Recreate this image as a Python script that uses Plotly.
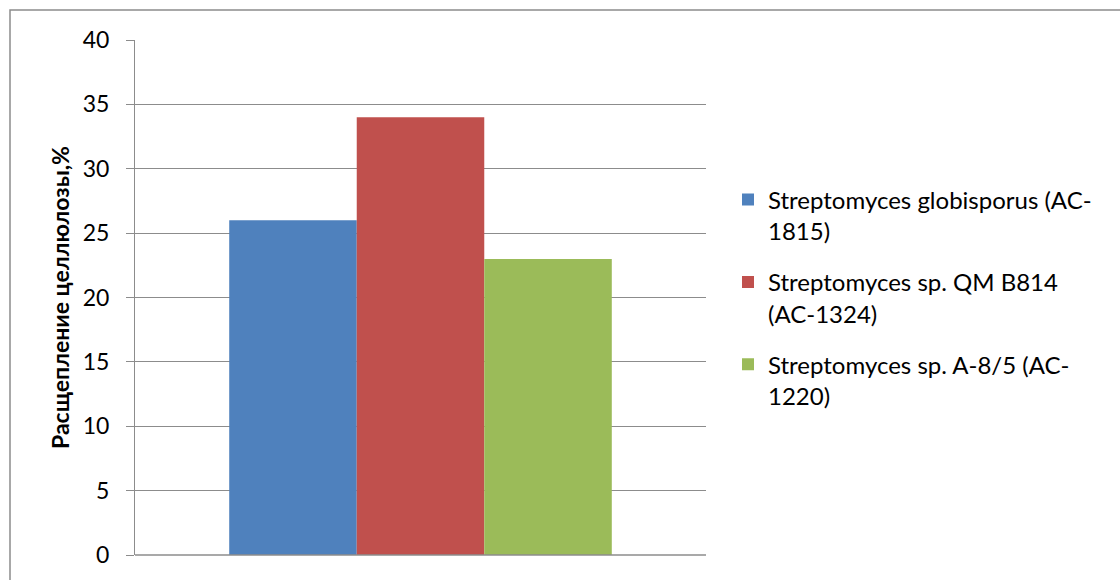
import plotly.graph_objects as go

categories = [""]
series_names = [
    "Streptomyces globisporus (AC-<br>1815)",
    "Streptomyces sp. QM B814<br>(AC-1324)",
    "Streptomyces sp. A-8/5 (AC-<br>1220)",
]
series_values = [[26], [34], [23]]
colors = ["#4F81BD", "#C0504D", "#9BBB59"]
y_ticks = [0, 5, 10, 15, 20, 25, 30, 35, 40]
y_title = "Расщепление целлюлозы,%"

FONT = "Lato"
W, H = 1120, 580
L, R, T, B = 135, 706, 40, 557

fig = go.Figure()
for i, (name, vals, c) in enumerate(zip(series_names, series_values, colors)):
    fig.add_trace(go.Bar(x=[0], y=vals, name=name, legendgroup="g%d" % i,
                         marker=dict(color=c, line=dict(width=0))))

pw = R - L
ph = B - T
def px(x):
    return (x - L) / pw
def py(y):
    return (B - y) / ph

fig.update_layout(
    width=W, height=H,
    margin=dict(l=L, r=W - R, t=T, b=H - B, pad=0),
    paper_bgcolor="white", plot_bgcolor="white",
    barmode="group", bargap=0.33, bargroupgap=0,
    font=dict(family=FONT, size=24, color="#000000"),
    showlegend=True,
    legend=dict(
        x=px(728), y=py(178), xanchor="left", yanchor="top",
        font=dict(family=FONT, size=24, color="#000000"),
        valign="top", tracegroupgap=17, traceorder="grouped",
        bgcolor="rgba(0,0,0,0)",
    ),
    xaxis=dict(
        range=[-0.5, 0.5], showticklabels=False, showgrid=False, zeroline=False,
        showline=False, ticks="", fixedrange=True,
    ),
    yaxis=dict(
        range=[0, 40], tickvals=y_ticks, ticktext=[str(v) for v in y_ticks],
        showgrid=True, gridcolor="#8C8C8C", gridwidth=1,
        zeroline=False, showline=True, linecolor="#8C8C8C", linewidth=1,
        ticks="outside", ticklen=8, tickcolor="#8C8C8C",
        ticklabelstandoff=12,
        tickfont=dict(family=FONT, size=23, color="#000000"),
        title=dict(text="<b>" + y_title + "</b>", font=dict(family=FONT, size=23, color="#000000"), standoff=6),
    ),
    shapes=[
        dict(type="rect", xref="paper", yref="paper",
             x0=px(10), y0=py(600), x1=px(1140), y1=py(10),
             line=dict(color="#8C8C8C", width=1.5), fillcolor="rgba(0,0,0,0)", layer="below"),
        dict(type="line", xref="paper", yref="paper",
             x0=0, x1=1, y0=0, y1=0, line=dict(color="#8C8C8C", width=1.5)),
    ],
)

fig.write_html("out.html")
